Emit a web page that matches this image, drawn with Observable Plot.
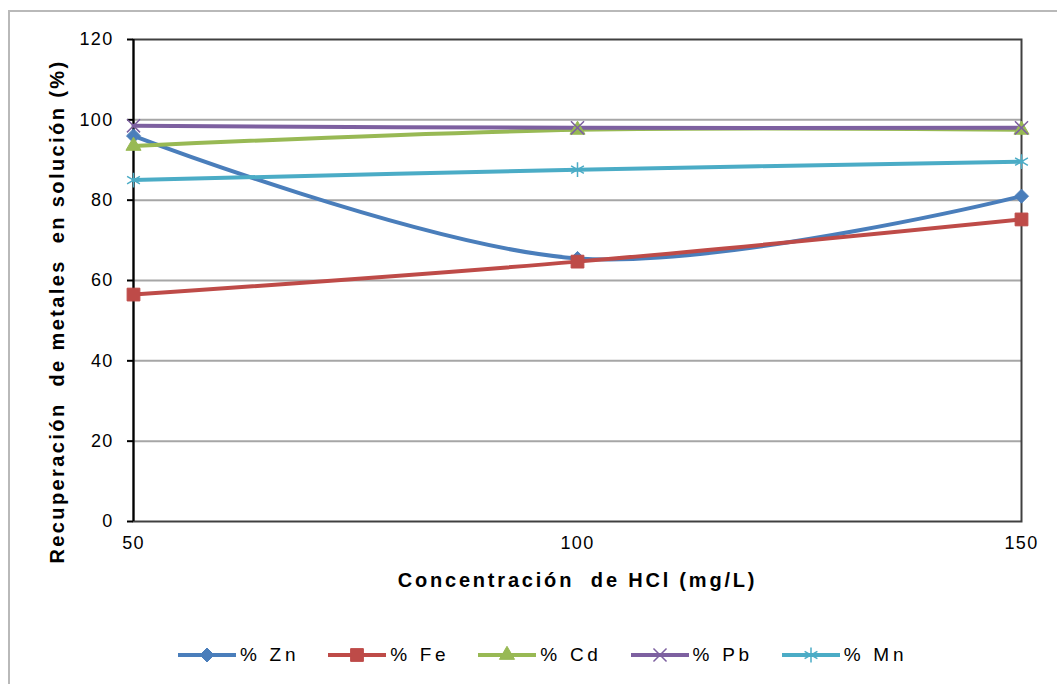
<!DOCTYPE html>
<html>
<head>
<meta charset="utf-8">
<script src="https://cdn.jsdelivr.net/npm/d3@7"></script>
<script src="https://cdn.jsdelivr.net/npm/@observablehq/plot@0.6"></script>
<style>
  body { margin: 0; background: #fff; font-family: "Liberation Sans", Arial, sans-serif; }
  #chart { position: relative; width: 1057px; height: 684px; overflow: hidden; }
  #border { position: absolute; left: 8px; top: 10px; width: 1200px; height: 800px;
            border-left: 2px solid #b9b9b9; border-top: 2px solid #b9b9b9; }
  #plot { position: absolute; left: 0; top: 0; }
  #plot g[aria-label="y-axis tick label"] text,
  #plot g[aria-label="x-axis tick label"] text { letter-spacing: 1.3px; }
  #plot [aria-label="x-title"] { letter-spacing: 2.8px; }
  #plot [aria-label="y-title"] { letter-spacing: 2.4px; }
  #legend { position: absolute; left: 178px; top: 641px; height: 28px; display: flex; align-items: center; }
  .item { display: flex; align-items: center; margin-right: 29px; }
  .item span { font-size: 19px; letter-spacing: 3.7px; color: #000; margin-left: 4px; }
</style>
</head>
<body>
<div id="chart">
  <div id="border"></div>
  <div id="plot"></div>
  <div id="legend"></div>
</div>
<script>
// HCl concentration (mg/L)
const concentrations = [50, 100, 150];
// Metal recovery in solution (%)
const zn = [96, 65.5, 81];
const fe = [56.5, 64.7, 75.2];
const cd = [93.5, 97.5, 97.5];
const pb = [98.5, 98, 98];
const mn = [85, 87.6, 89.6];
const seriesNames = ["% Zn", "% Fe", "% Cd", "% Pb", "% Mn"];
const yTicks = [0, 20, 40, 60, 80, 100, 120];
const gridValues = [20, 40, 60, 80, 100];

const series = [
  {name: seriesNames[0], values: zn, color: "#4a7ebb", symbol: "diamond2", r: 6.3, fill: true},
  {name: seriesNames[1], values: fe, color: "#be4b48", symbol: "square", r: 7.2, fill: true},
  {name: seriesNames[2], values: cd, color: "#98b954", symbol: "triangle", r: 5.6, fill: true},
  {name: seriesNames[3], values: pb, color: "#7d60a0", symbol: "times", r: 6, fill: false},
  {name: seriesNames[4], values: mn, color: "#4bacc6", symbol: "asterisk", r: 7, fill: false}
];

const rows = s => concentrations.map((c, i) => ({x: c, y: s.values[i]}));

const marks = [
  Plot.ruleY(gridValues, {stroke: "#a6a6a6", strokeWidth: 2}),
  Plot.frame({stroke: "#404040", strokeWidth: 2}),
  Plot.axisY({ticks: yTicks, tickSize: 6, tickPadding: 14, tickFormat: d => d, label: null,
              fontSize: 18, stroke: "#000", strokeWidth: 2, color: "#000"}),
  Plot.axisX({ticks: concentrations, tickSize: 0, tickPadding: 15, tickFormat: d => d, label: null,
              fontSize: 18}),
  Plot.ruleX([50], {stroke: "#000", strokeWidth: 2})
];
for (const s of series) {
  marks.push(Plot.line(rows(s), {x: "x", y: "y", stroke: s.color, strokeWidth: 4, curve: "cardinal"}));
}
for (const s of series) {
  marks.push(Plot.dot(rows(s), {x: "x", y: "y", symbol: s.symbol, r: s.r,
    fill: s.fill ? s.color : "none", stroke: s.color, strokeWidth: s.fill ? 1 : 1.5}));
}
// Axis titles
marks.push(Plot.text(["Concentración  de HCl (mg/L)"], {
  ariaLabel: () => "x-title", frameAnchor: "bottom", dy: 65, text: d => d,
  fontSize: 20, fontWeight: "bold", fill: "#000"}));
marks.push(Plot.text(["Recuperación  de metales  en solución (%)"], {
  ariaLabel: () => "y-title", frameAnchor: "left", textAnchor: "middle", dx: -76, dy: 31, rotate: -90,
  text: d => d, fontSize: 20, fontWeight: "bold", fill: "#000"}));

const chart = Plot.plot({
  width: 1057,
  height: 610,
  marginLeft: 133,
  marginRight: 36,
  marginTop: 39,
  marginBottom: 89,
  style: {background: "transparent", fontFamily: "'Liberation Sans', Arial, sans-serif", color: "#000", overflow: "visible"},
  x: {domain: [50, 150]},
  y: {domain: [0, 120]},
  marks
});
document.getElementById("plot").appendChild(chart);

// Legend: line sample with marker, then the series name
const legend = d3.select("#legend");
for (const s of series) {
  const item = legend.append("div").attr("class", "item");
  const svg = item.append("svg").attr("width", 58).attr("height", 20);
  svg.append("line").attr("x1", 0).attr("x2", 58).attr("y1", 10).attr("y2", 10)
    .attr("stroke", s.color).attr("stroke-width", 4);
  const sym = {diamond2: d3.symbolDiamond2, square: d3.symbolSquare, triangle: d3.symbolTriangle,
               times: d3.symbolTimes, asterisk: d3.symbolAsterisk}[s.symbol];
  svg.append("path").attr("transform", "translate(29,10)")
    .attr("d", d3.symbol(sym, Math.PI * s.r * s.r)())
    .attr("fill", s.fill ? s.color : "none").attr("stroke", s.color).attr("stroke-width", s.fill ? 1 : 1.5);
  item.append("span").text(s.name);
}
</script>
</body>
</html>
